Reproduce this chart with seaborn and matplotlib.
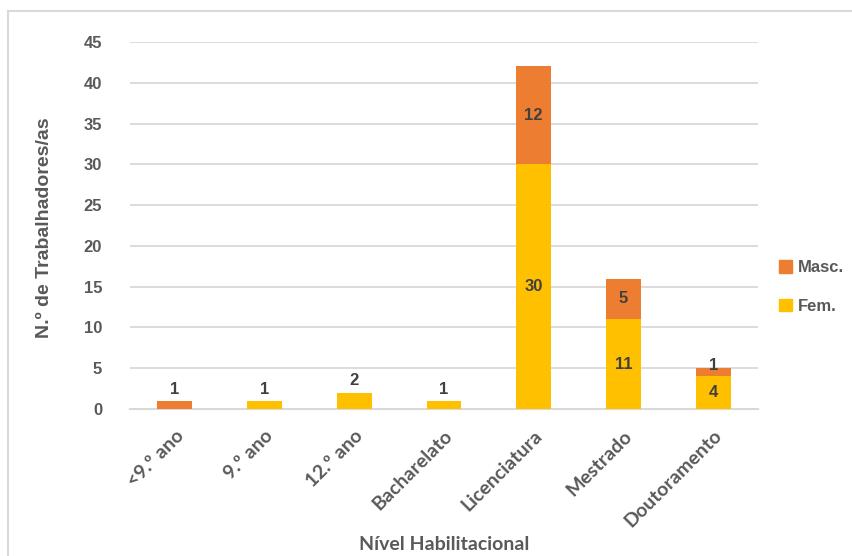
import matplotlib
matplotlib.use("Agg")
import matplotlib.pyplot as plt
from matplotlib.patches import Rectangle, Patch
import numpy as np
import pandas as pd
import seaborn as sns

# Data
categorias = ["<9.º ano", "9.º ano", "12.º ano", "Bacharelato",
              "Licenciatura", "Mestrado", "Doutoramento"]
fem = [0, 1, 2, 1, 30, 11, 4]
masc = [1, 0, 0, 0, 12, 5, 1]
y_ticks = [0, 5, 10, 15, 20, 25, 30, 35, 40, 45]

COR_FEM = "#FFC000"
COR_MASC = "#ED7D31"
TEXTO = "#595959"
GRELHA = "#D9D9D9"
FONTE_CAT = ["Lato", "DejaVu Sans"]

sns.set_theme(style="white")
plt.rcParams["font.family"] = ["Liberation Sans", "DejaVu Sans"]

df = pd.DataFrame({"cat": categorias, "fem": fem, "masc": masc})
df["total"] = df["fem"] + df["masc"]

fig = plt.figure(figsize=(8.52, 5.56), dpi=100)
ax = fig.add_axes([130 / 852, 1 - 409 / 556, 628 / 852, 367 / 556])

# stacked bars: total in orange, female part drawn over it in yellow
sns.barplot(data=df, x="cat", y="total", color=COR_MASC, saturation=1,
            width=0.39, ax=ax, zorder=3, linewidth=0)
sns.barplot(data=df, x="cat", y="fem", color=COR_FEM, saturation=1,
            width=0.39, ax=ax, zorder=4, linewidth=0)

ax.set_xlim(-0.5, len(categorias) - 0.5)
ax.set_ylim(0, 45)
ax.set_yticks(y_ticks)
ax.yaxis.grid(True, color=GRELHA, linewidth=1.3, zorder=0)
ax.xaxis.grid(False)
for s in ["top", "right", "left"]:
    ax.spines[s].set_visible(False)
ax.spines["bottom"].set_color(GRELHA)
ax.spines["bottom"].set_linewidth(1.5)
ax.tick_params(axis="both", length=0)
ax.tick_params(axis="y", pad=20)
ax.set_xlabel("")
ax.set_ylabel("")

for lbl in ax.get_yticklabels():
    lbl.set_fontsize(12)
    lbl.set_fontweight("bold")
    lbl.set_color(TEXTO)

ax.set_xticks(range(len(categorias)))
ax.set_xticklabels(categorias, rotation=45, ha="right",
                   rotation_mode="anchor", fontsize=14, fontweight="bold",
                   color=TEXTO, family=FONTE_CAT)
ax.tick_params(axis="x", pad=13)

# value labels
lab_kw = dict(ha="center", fontsize=12, fontweight="bold", color="#404040", zorder=6)
for i, (f, m) in enumerate(zip(fem, masc)):
    tot = f + m
    for base, val in ((0, f), (f, m)):
        if val == 0:
            continue
        if val >= 3:
            ax.text(i, base + val / 2, str(val), va="center", **lab_kw)
        elif val == tot:
            ax.text(i, tot + 0.9, str(val), va="baseline", **lab_kw)
        else:
            ax.text(i, tot - 0.2, str(val), va="baseline", **lab_kw)

# legend
handles = [Patch(color=COR_MASC, label="Masc."), Patch(color=COR_FEM, label="Fem.")]
leg = fig.legend(handles=handles, loc="center left",
                 bbox_to_anchor=(764 / 852, 1 - 287 / 556), frameon=False,
                 handlelength=0.75, handleheight=0.75, handletextpad=0.4,
                 labelspacing=1.4, prop={"weight": "bold", "size": 12})
for t in leg.get_texts():
    t.set_color(TEXTO)

fig.text(45 / 852, 1 - 228 / 556, "N.º de Trabalhadores/as", rotation=90,
         ha="center", va="center", fontsize=14, fontweight="bold", color=TEXTO)
fig.text(444 / 852, 1 - 545 / 556, "Nível Habilitacional",
         ha="center", va="center", fontsize=14, fontweight="bold", color=TEXTO,
         family=FONTE_CAT)

# chart-area border
fig.patches.append(Rectangle((8 / 852, -0.1), 1.2, 1 - 11 / 556 + 0.1,
                             transform=fig.transFigure, fill=False,
                             edgecolor=GRELHA, linewidth=1.5))

fig.savefig("out.png", dpi=100)
